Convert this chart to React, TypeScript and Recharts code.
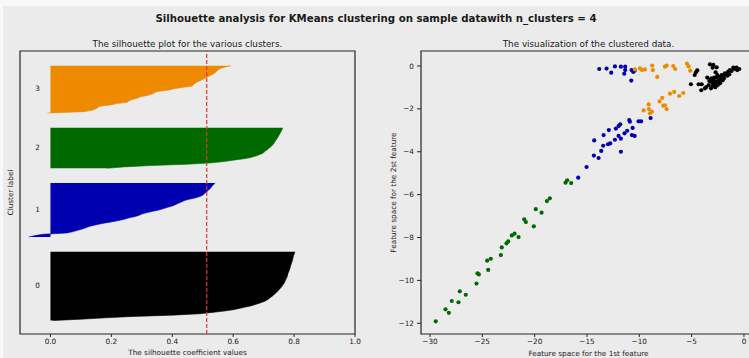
import React from 'react';
import {
  ComposedChart,
  Area,
  XAxis,
  YAxis,
  ReferenceLine,
  ReferenceArea,
  ReferenceDot,
  ScatterChart,
  Scatter,
} from 'recharts';

// ---------- data ----------
const clusterIds = [0, 1, 2, 3];
const clusterColors = ['#000000', '#0000b0', '#006a00', '#ee8a00'];

// silhouette values per cluster, sorted ascending
const silhouette0 = [0.01, 0.10, 0.18, 0.27, 0.40, 0.49, 0.53, 0.57, 0.60, 0.62, 0.64, 0.66, 0.675, 0.688, 0.70, 0.71, 0.716, 0.722, 0.728, 0.733, 0.738, 0.743, 0.747, 0.751, 0.755, 0.759, 0.762, 0.765, 0.768, 0.77, 0.772, 0.774, 0.776, 0.778, 0.779, 0.780, 0.782, 0.784, 0.785, 0.787, 0.788, 0.789, 0.791, 0.792, 0.794, 0.795, 0.796, 0.797, 0.798, 0.800, 0.801, 0.803];
const silhouette1 = [-0.071, -0.05, -0.025, 0.055, 0.075, 0.09, 0.105, 0.118, 0.13, 0.15, 0.17, 0.195, 0.22, 0.24, 0.255, 0.275, 0.29, 0.30, 0.315, 0.335, 0.356, 0.37, 0.385, 0.40, 0.41, 0.42, 0.43, 0.44, 0.455, 0.475, 0.49, 0.50, 0.505, 0.51, 0.515, 0.52, 0.525, 0.528, 0.532, 0.536, 0.541];
const silhouette2 = [0.186, 0.24, 0.33, 0.45, 0.53, 0.57, 0.60, 0.635, 0.658, 0.674, 0.685, 0.696, 0.702, 0.707, 0.713, 0.718, 0.724, 0.728, 0.733, 0.735, 0.738, 0.741, 0.744, 0.747, 0.749, 0.752, 0.754, 0.757, 0.759, 0.761, 0.763];
const silhouette3 = [-0.01, 0.11, 0.137, 0.148, 0.156, 0.162, 0.197, 0.219, 0.252, 0.258, 0.269, 0.285, 0.296, 0.318, 0.334, 0.342, 0.351, 0.389, 0.406, 0.433, 0.466, 0.469, 0.475, 0.482, 0.491, 0.501, 0.510, 0.518, 0.526, 0.535, 0.541, 0.546, 0.550, 0.559, 0.572, 0.594];
const silhouetteAvg = 0.513;
const silhouetteTicks = [0, 0.2, 0.4, 0.6, 0.8, 1.0];
const silhouetteDomain = [-0.1, 1];

// scatter points [feature1, feature2] per cluster
const points0: [number, number][] = [
  [-5.07, -0.85], [-4.46, -0.20], [-4.59, -0.29], [-4.33, -0.85], [-4.04, -0.85], [-4.08, -1.13], [-3.73, -1.04], [-3.60, -0.98],
  [-3.31, -0.70], [-3.25, 0.08], [-2.93, 0.05], [-2.99, -0.08], [-2.61, -0.06], [-2.71, -0.29], [-3.18, -0.62], [-3.15, -1.04],
  [-2.74, -0.99], [-2.51, -0.89], [-2.84, -0.79], [-2.93, -0.64], [-2.61, -0.54], [-2.29, -0.50], [-2.13, -0.42], [-1.82, -0.34],
  [-1.50, -0.26], [-1.34, -0.19], [-1.02, -0.08], [-0.70, -0.08], [-0.45, -0.14], [-2.39, -0.67], [-2.13, -0.57], [-1.98, -0.45],
  [-1.72, -0.37], [-2.68, -0.73], [-3.06, -0.76], [-2.42, -0.79], [-1.18, -0.23], [-0.86, -0.14], [-1.60, -0.45], [-1.91, -0.57],
  [-2.29, -0.81], [-2.99, -0.92], [-3.51, -0.54], [-2.55, -0.42], [-2.84, -0.54], [-3.09, -0.57], [-1.40, -0.39], [-0.64, -0.19],
  [-2.04, -0.67], [-2.77, -0.89], [-3.37, -0.89], [-4.71, -0.42],
];
const points1: [number, number][] = [
  [-13.83, -0.14], [-13.13, -0.12], [-12.68, -0.31], [-12.33, -0.02], [-11.76, -0.03], [-11.35, -0.03], [-11.35, -0.19], [-11.44, -0.36],
  [-10.74, -0.19], [-10.58, -0.28], [-10.45, -0.22], [-10.77, -0.68],
  [-10.96, -2.52], [-10.90, -2.60], [-10.07, -2.58], [-9.82, -2.58], [-8.92, -2.43], [-11.82, -2.72], [-11.98, -2.80], [-12.24, -2.92],
  [-12.91, -2.99], [-10.64, -2.89], [-11.16, -3.02], [-11.41, -3.14], [-13.41, -3.22], [-11.98, -3.26], [-11.76, -3.39], [-10.71, -3.22],
  [-10.45, -3.26], [-12.33, -3.44], [-12.78, -3.61], [-13.00, -3.65], [-13.45, -3.72], [-14.31, -3.47], [-13.64, -3.96], [-11.76, -4.00],
  [-14.34, -4.18], [-13.89, -4.29], [-15.04, -4.71], [-15.84, -5.21],
];
const points2: [number, number][] = [
  [-18.55, -6.17], [-18.83, -6.30], [-19.89, -6.68], [-19.34, -6.84], [-21.00, -7.15], [-20.84, -7.28], [-20.08, -7.48], [-22.18, -7.90],
  [-21.92, -7.82], [-21.54, -7.98], [-22.69, -8.27], [-22.53, -8.18], [-23.14, -8.46], [-23.23, -8.82], [-24.54, -9.08], [-24.19, -8.99],
  [-24.44, -9.51], [-25.46, -9.67], [-25.33, -9.72], [-25.56, -10.15], [-27.15, -10.51], [-26.58, -10.67], [-27.92, -10.96], [-27.28, -11.02],
  [-28.52, -11.35], [-28.20, -11.51], [-29.45, -11.91], [-17.05, -5.44], [-16.89, -5.33], [-16.51, -5.46],
];
const points3: [number, number][] = [
  [-10.42, -0.16], [-9.94, -0.11], [-9.75, -0.19], [-9.46, -0.16], [-8.77, 0.02], [-8.70, -0.19], [-8.29, -0.51], [-7.55, -0.03],
  [-7.39, 0.02], [-6.76, 0.00], [-6.57, -0.14], [-5.45, 0.11], [-5.29, -0.02], [-5.13, -0.22],
  [-9.59, -2.07], [-9.11, -1.79], [-9.08, -2.01], [-8.99, -2.21], [-8.80, -2.13], [-8.06, -1.65], [-7.81, -1.49], [-7.71, -1.85],
  [-7.55, -1.83], [-7.39, -2.01], [-7.07, -1.29], [-6.66, -1.21], [-6.19, -1.40], [-5.80, -1.26],
];
const feature1Ticks = [-30, -25, -20, -15, -10, -5, 0];
const feature2Ticks = [0, -2, -4, -6, -8, -10, -12];
const feature1Domain = [-30.86, 1.15];
const feature2Domain = [-12.5, 0.7];

const silhouettes = [silhouette0, silhouette1, silhouette2, silhouette3];
const pointSets = [points0, points1, points2, points3];

// ---------- derived tables ----------
const GAP = 10;
const silRows: Record<string, number>[] = [];
const labelRows: { k: number; y: number }[] = [];
let yLower = 10;
silhouettes.forEach((vals, k) => {
  vals.forEach((v, i) => {
    silRows.push({ y: yLower + i, ['v' + k]: v });
  });
  labelRows.push({ k, y: yLower + 0.5 * vals.length });
  yLower += vals.length + GAP;
});
const yMax = yLower;

const FONT = '"DejaVu Sans", sans-serif';
const BG = '#ebebeb';
const TEXT = '#1a1a1a';
const SPINE = '#262626';
const TICK_FS = 7.3;

const fmtMinus = (v: number) => (v < 0 ? '\u2212' + Math.abs(v) : String(v));

export default function App() {
  return (
    <div
      style={{
        position: 'absolute',
        left: 0,
        top: 0,
        width: 749,
        height: 358,
        overflow: 'hidden',
        background: BG,
        fontFamily: FONT,
      }}
    >
      <div style={{ position: 'absolute', left: 0, top: 0, width: 749, height: 6, background: '#f8f8f8' }} />
      <div style={{ position: 'absolute', left: 0, top: 0, width: 3, height: 358, background: '#f8f8f8' }} />

      <div style={{ position: 'absolute', left: 0, top: 0 }}>
        <ComposedChart
          width={370}
          height={358}
          layout="vertical"
          data={silRows}
          margin={{ top: 51, right: 15, bottom: 4, left: 20 }}
        >
          <XAxis
            type="number"
            domain={silhouetteDomain}
            ticks={silhouetteTicks}
            allowDataOverflow
            interval={0}
            tickFormatter={(v: number) => v.toFixed(1)}
            axisLine={false}
            tickLine={{ stroke: SPINE, strokeWidth: 1 }}
            tickSize={3}
            tickMargin={2}
            height={20}
            tick={{ fontSize: TICK_FS, fill: TEXT, fontFamily: FONT }}
          />
          <YAxis type="number" dataKey="y" domain={[0, yMax]} hide allowDataOverflow reversed />
          {clusterIds.map((k) => (
            <Area
              key={k}
              type="linear"
              dataKey={'v' + k}
              baseValue={0}
              fill={clusterColors[k]}
              fillOpacity={1}
              stroke={clusterColors[k]}
              strokeWidth={0.6}
              isAnimationActive={false}
              dot={false}
              activeDot={false}
            />
          ))}
          <ReferenceLine
            x={silhouetteAvg}
            stroke="#f0302a"
            strokeOpacity={0.85}
            strokeWidth={1.4}
            strokeDasharray="4 2"
          />
          {labelRows.map((r) => (
            <ReferenceDot
              key={r.k}
              x={-0.05}
              y={r.y}
              r={0}
              fill="none"
              stroke="none"
              label={{
                value: String(r.k),
                position: 'right',
                offset: 0,
                fill: TEXT,
                fontSize: TICK_FS,
                fontFamily: FONT,
              }}
            />
          ))}
          <ReferenceArea
            x1={silhouetteDomain[0]}
            x2={silhouetteDomain[1]}
            y1={0}
            y2={yMax}
            fill="none"
            fillOpacity={0}
            stroke={SPINE}
            strokeWidth={1.2}
            ifOverflow="visible"
          />
        </ComposedChart>
      </div>

      <div style={{ position: 'absolute', left: 370, top: 0 }}>
        <ScatterChart width={400} height={358} margin={{ top: 51, right: 14, bottom: 4, left: 10 }}>
          <XAxis
            type="number"
            dataKey="x"
            domain={feature1Domain}
            ticks={feature1Ticks}
            allowDataOverflow
            interval={0}
            tickFormatter={fmtMinus}
            axisLine={false}
            tickLine={{ stroke: SPINE, strokeWidth: 1 }}
            tickSize={3}
            tickMargin={2}
            height={20}
            tick={{ fontSize: TICK_FS, fill: TEXT, fontFamily: FONT }}
          />
          <YAxis
            type="number"
            dataKey="y"
            domain={feature2Domain}
            ticks={feature2Ticks}
            allowDataOverflow
            interval={0}
            tickFormatter={fmtMinus}
            axisLine={false}
            tickLine={{ stroke: SPINE, strokeWidth: 1 }}
            tickSize={4}
            tickMargin={3}
            width={41}
            tick={{ fontSize: TICK_FS, fill: TEXT, fontFamily: FONT }}
          />
          <ReferenceArea
            x1={feature1Domain[0]}
            x2={feature1Domain[1]}
            y1={feature2Domain[0]}
            y2={feature2Domain[1]}
            fill="none"
            fillOpacity={0}
            stroke={SPINE}
            strokeWidth={1.2}
            ifOverflow="visible"
          />
          {clusterIds.map((k) => (
            <Scatter
              key={k}
              data={pointSets[k].map(([x, y]) => ({ x, y }))}
              fill={clusterColors[k]}
              isAnimationActive={false}
              shape={(p: any) => <circle cx={p.cx} cy={p.cy} r={2.1} fill={clusterColors[k]} />}
            />
          ))}
        </ScatterChart>
      </div>

      <svg
        width={749}
        height={358}
        style={{ position: 'absolute', left: 0, top: 0, pointerEvents: 'none' }}
        fontFamily={FONT}
      >
        <text x={376} y={18} textAnchor="middle" dominantBaseline="central" fontSize={10.2} fontWeight="bold" fill={TEXT}>
          Silhouette analysis for KMeans clustering on sample datawith n_clusters = 4
        </text>
        <text x={187.5} y={43.5} textAnchor="middle" dominantBaseline="central" fontSize={8.8} fill={TEXT}>
          The silhouette plot for the various clusters.
        </text>
        <text x={588.5} y={43.5} textAnchor="middle" dominantBaseline="central" fontSize={8.8} fill={TEXT}>
          The visualization of the clustered data.
        </text>
        <text x={187.5} y={352.5} textAnchor="middle" dominantBaseline="central" fontSize={TICK_FS} fill={TEXT}>
          The silhouette coefficient values
        </text>
        <text x={588.5} y={353} textAnchor="middle" dominantBaseline="central" fontSize={TICK_FS} fill={TEXT}>
          Feature space for the 1st feature
        </text>
        <text
          x={10}
          y={192.5}
          textAnchor="middle"
          dominantBaseline="central"
          fontSize={TICK_FS}
          fill={TEXT}
          transform="rotate(-90 10 192.5)"
        >
          Cluster label
        </text>
        <text
          x={393}
          y={192.5}
          textAnchor="middle"
          dominantBaseline="central"
          fontSize={TICK_FS}
          fill={TEXT}
          transform="rotate(-90 393 192.5)"
        >
          Feature space for the 2st feature
        </text>
      </svg>
    </div>
  );
}
